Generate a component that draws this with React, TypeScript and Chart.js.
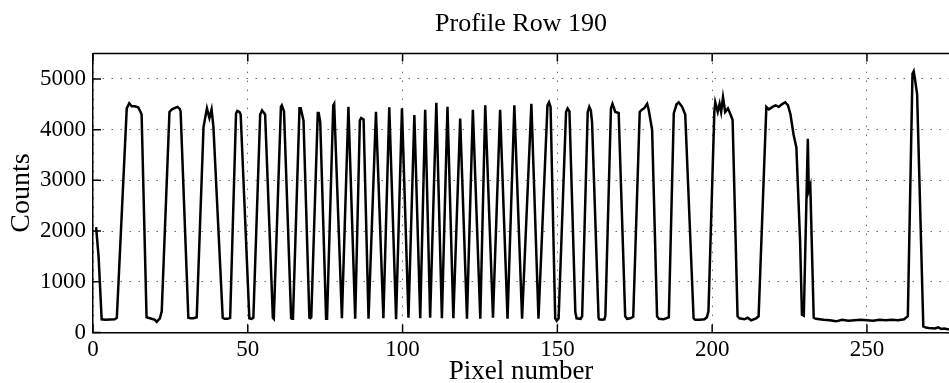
import { useEffect, useRef } from 'react';
import { Chart, registerables } from 'chart.js';

Chart.register(...registerables);

const TITLE = 'Profile Row 190';
const X_LABEL = 'Pixel number';
const Y_LABEL = 'Counts';

const xTicks = [0, 50, 100, 150, 200, 250];
const yTicks = [0, 1000, 2000, 3000, 4000, 5000];
const xMax = 276.5;
const yMax = 5500;

// Profile vertices: pixel number and counts
const pixelNumber = [
  1.0, 1.8, 2.8, 4.0, 5.5, 7.0, 7.7, 10.9, 11.7, 12.5, 13.5, 14.6, 15.3, 15.7, 17.3, 18.4, 20.0, 20.6, 21.6, 22.2,
  24.7, 25.5, 26.5, 27.3, 28.0, 28.3, 30.8, 31.5, 32.5, 33.5, 35.7, 36.8, 37.6, 38.3, 38.9, 41.9, 42.5, 43.5,
  44.3, 46.2, 46.6, 47.3, 47.7, 50.5, 51.2, 51.8, 54.0, 54.6, 55.6, 58.1, 58.4, 60.7, 61.0, 61.7, 64.0, 64.3,
  64.6, 66.7, 67.1, 68.0, 69.9, 70.2, 70.5, 72.6, 72.9, 73.4, 75.3, 75.6, 77.6, 77.9, 80.4, 82.5, 84.7, 86.2,
  86.6, 87.4, 89.0, 91.4, 93.8, 95.7, 97.9, 99.8, 101.9, 103.8, 105.7, 107.3, 108.9, 110.9, 112.7, 114.5,
  116.4, 118.6, 120.8, 122.7, 125.1, 126.7, 129.2, 131.5, 133.9, 136.1, 138.6, 141.6, 143.9, 146.8, 147.3,
  147.8, 149.3, 149.8, 150.4, 152.8, 153.3, 153.9, 155.8, 156.2, 157.5, 158.0, 159.8, 160.3, 160.8, 161.2,
  163.3, 163.5, 164.4, 165.2, 165.5, 167.3, 167.8, 168.7, 169.8, 171.9, 172.5, 173.6, 174.5, 176.6, 177.2,
  178.0, 179.0, 179.5, 180.6, 182.2, 182.8, 184.3, 186.0, 187.6, 188.5, 189.2, 190.3, 191.3, 194.0, 194.5,
  196.0, 197.5, 198.3, 198.8, 200.7, 201.0, 201.8, 202.4, 202.9, 203.5, 204.2, 205.1, 206.0, 206.6, 208.2,
  208.8, 210.4, 211.5, 212.6, 214.2, 215.0, 217.5, 218.3, 219.5, 220.5, 221.5, 222.5, 223.6, 224.5, 225.3,
  226.3, 227.2, 228.4, 229.0, 229.6, 230.9, 231.2, 231.7, 232.8, 233.5, 236.0, 238.0, 240.0, 242.0, 244.0,
  246.0, 248.0, 250.0, 252.0, 254.0, 256.0, 258.0, 260.0, 262.0, 263.2, 264.7, 265.1, 265.5, 266.2, 268.2,
  269.0, 270.0, 272.0, 273.0, 274.0, 275.0, 276.5,
];

const counts = [
  2080, 1500, 260, 250, 255, 260, 290, 4420, 4520, 4460, 4460, 4440, 4360, 4300, 300, 280, 250, 210, 280, 420,
  4350, 4400, 4430, 4450, 4410, 4360, 290, 280, 280, 300, 4050, 4420, 4230, 4400, 4050, 290, 270, 270,
  290, 4320, 4370, 4350, 4300, 280, 270, 290, 4300, 4380, 4300, 290, 270, 4450, 4480, 4360, 280, 270,
  290, 4420, 4420, 4180, 290, 280, 300, 4330, 4330, 4150, 270, 270, 4480, 4510, 280, 4450, 270, 4180,
  4230, 4200, 270, 4350, 280, 4440, 260, 4420, 290, 4290, 280, 4390, 290, 4530, 280, 4450,
  280, 4220, 270, 4390, 270, 4480, 290, 4390, 270, 4480, 270, 4510, 270, 4480, 4540,
  4450, 280, 230, 280, 4350, 4420, 4360, 400, 280, 270, 320, 4350, 4450, 4380, 4150,
  290, 260, 250, 260, 330, 4420, 4510, 4350, 4330, 320, 270, 280, 310, 4350, 4390,
  4420, 4510, 4390, 4000, 320, 270, 260, 300, 4320, 4500, 4540, 4450, 4300, 280, 250,
  250, 260, 300, 420, 4350, 4540, 4350, 4510, 4350, 4640, 4350, 4420, 4290, 4190, 320,
  280, 260, 290, 240, 280, 320, 4450, 4400, 4450, 4480, 4450, 4500, 4540, 4480, 4300,
  3900, 3650, 1800, 350, 330, 3820, 2800, 2900, 290, 270, 250, 240, 220, 250, 230,
  240, 250, 240, 230, 250, 240, 250, 240, 260, 320, 5100, 5150, 5000, 4700, 120,
  100, 90, 80, 100, 70, 80, 60,
];

const SERIF = "'Liberation Serif', 'Times New Roman', Times, serif";

export default function App() {
  const ref = useRef<HTMLCanvasElement>(null);

  useEffect(() => {
    const canvas = ref.current;
    if (!canvas) return;

    const framePlugin = {
      id: 'matlabFrame',
      afterDraw(chart: any) {
        const { ctx, chartArea, scales } = chart;
        const { left, right, top, bottom } = chartArea;
        const x = scales.x;
        const y = scales.y;
        ctx.save();
        ctx.strokeStyle = '#000';
        ctx.lineWidth = 1.5;
        ctx.beginPath();
        ctx.moveTo(left, top);
        ctx.lineTo(right, top);
        for (const v of xTicks) {
          const px = x.getPixelForValue(v);
          ctx.moveTo(px, bottom);
          ctx.lineTo(px, bottom - 8);
          ctx.moveTo(px, top);
          ctx.lineTo(px, top + 8);
        }
        for (const v of yTicks) {
          const py = y.getPixelForValue(v);
          ctx.moveTo(left, py);
          ctx.lineTo(left + 8, py);
        }
        ctx.stroke();
        ctx.restore();
      },
    };

    const chart = new Chart(canvas, {
      type: 'line',
      data: {
        datasets: [
          {
            data: pixelNumber.map((p, i) => ({ x: p, y: counts[i] })),
            borderColor: '#000',
            borderWidth: 2.5,
            pointRadius: 0,
            tension: 0,
            fill: false,
          },
        ],
      },
      options: {
        animation: false,
        responsive: false,
        maintainAspectRatio: false,
        layout: { padding: 0 },
        plugins: {
          legend: { display: false },
          tooltip: { enabled: false },
          title: {
            display: true,
            text: TITLE,
            fullSize: false,
            color: '#000',
            font: { family: SERIF, size: 26, weight: 'normal', lineHeight: 1.2 },
            padding: { top: 9, bottom: 13.4 },
          },
        },
        scales: {
          x: {
            type: 'linear',
            min: 0,
            max: xMax,
            afterBuildTicks: (s: any) => {
              s.ticks = xTicks.map((v) => ({ value: v }));
            },
            afterFit: (s: any) => {
              s.height = 50.5;
            },
            ticks: {
              color: '#000',
              font: { family: SERIF, size: 23 },
              padding: 4,
              maxRotation: 0,
              autoSkip: false,
              callback: (v: any) => String(v),
            },
            grid: { color: '#6a6a6a', lineWidth: 1, drawTicks: false },
            border: { display: true, color: '#000', width: 1.5, dash: [1.5, 7.5] },
            title: {
              display: true,
              text: X_LABEL,
              color: '#000',
              font: { family: SERIF, size: 27, lineHeight: 0.8 },
              padding: 0,
            },
          },
          y: {
            type: 'linear',
            min: 0,
            max: yMax,
            afterBuildTicks: (s: any) => {
              s.ticks = yTicks.map((v) => ({ value: v }));
            },
            afterFit: (s: any) => {
              s.width = 93;
            },
            ticks: {
              color: '#000',
              font: { family: SERIF, size: 23 },
              padding: 7,
              autoSkip: false,
              callback: (v: any) => String(v),
            },
            grid: { color: '#6a6a6a', lineWidth: 1, drawTicks: false },
            border: { display: true, color: '#000', width: 1.5, dash: [1.5, 7.5] },
            title: {
              display: true,
              text: Y_LABEL,
              color: '#000',
              font: { family: SERIF, size: 28, lineHeight: 1.2 },
              padding: { top: 5, bottom: 0 },
            },
          },
        },
      },
      plugins: [framePlugin],
    });

    return () => chart.destroy();
  }, []);

  return (
    <div style={{ position: 'fixed', left: 0, top: 0, width: 949, height: 383, background: '#fff', overflow: 'hidden' }}>
      <canvas ref={ref} width={949} height={383} style={{ display: 'block', width: 949, height: 383 }} />
    </div>
  );
}
